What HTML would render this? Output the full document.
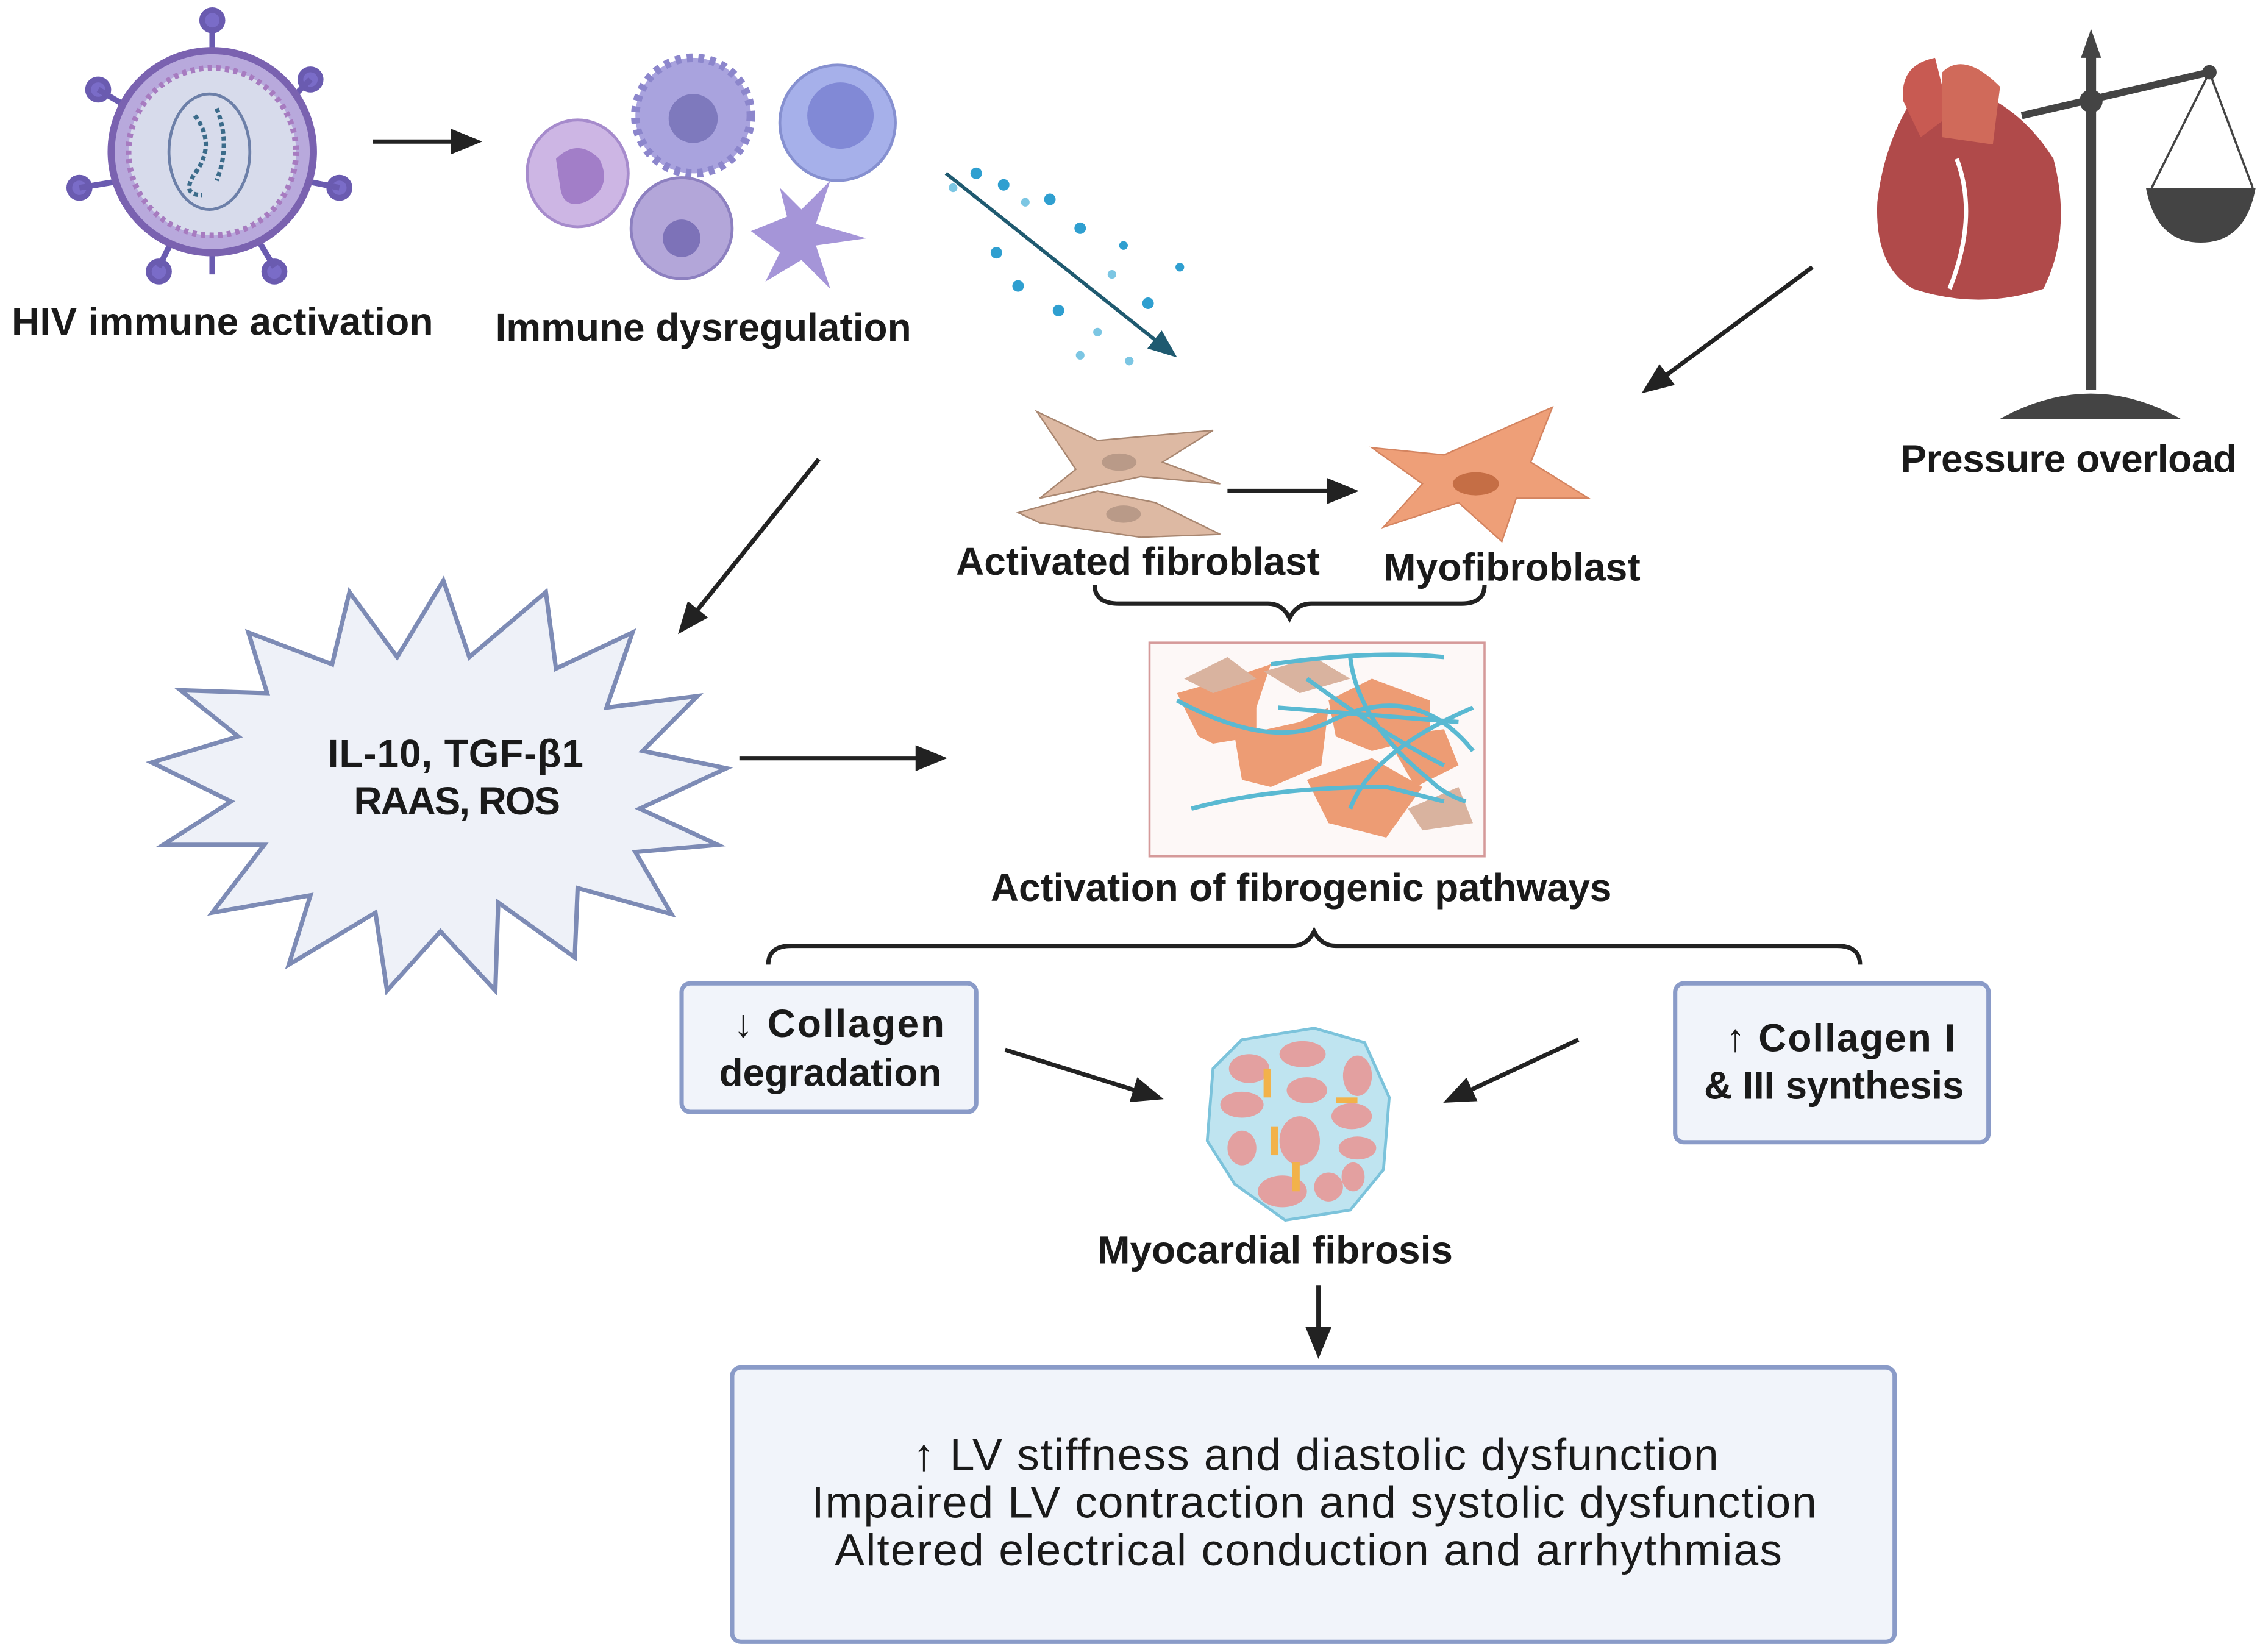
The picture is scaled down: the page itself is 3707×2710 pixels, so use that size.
<!DOCTYPE html>
<html><head><meta charset="utf-8"><style>
html,body{margin:0;padding:0;background:#fff}
svg{display:block}
text{font-family:"Liberation Sans",sans-serif;fill:#1a1a1a}
.b{font-weight:bold;font-size:27px}
</style></head><body>
<svg width="3707" height="2710" viewBox="0 0 1565 1144" xmlns="http://www.w3.org/2000/svg">
<defs>
<marker id="ah2" markerWidth="22" markerHeight="18" refX="18" refY="9" orient="auto" markerUnits="userSpaceOnUse"><path d="M0,0 L22,9 L0,18 z" fill="#222"/></marker>
<marker id="aht" markerWidth="20" markerHeight="16" refX="16" refY="8" orient="auto" markerUnits="userSpaceOnUse"><path d="M0,0 L20,8 L0,16 z" fill="#1f5a70"/></marker>
</defs>
<!-- virus -->
<g>
<g stroke="#6a5bb0" stroke-width="4" fill="#7a6cc8">
<line x1="147" y1="40" x2="147" y2="15"/><circle cx="147" cy="14" r="7"/>
<line x1="147" y1="170" x2="147" y2="190"/><circle cx="110" cy="188" r="7"/><line x1="120" y1="165" x2="110" y2="185"/>
<circle cx="190" cy="188" r="7"/><line x1="178" y1="165" x2="190" y2="185"/>
<circle cx="68" cy="62" r="7"/><line x1="90" y1="75" x2="68" y2="62"/>
<circle cx="215" cy="55" r="7"/><line x1="200" y1="70" x2="215" y2="55"/>
<circle cx="55" cy="130" r="7"/><line x1="85" y1="125" x2="55" y2="130"/>
<circle cx="235" cy="130" r="7"/><line x1="210" y1="125" x2="235" y2="130"/>
</g>
<circle cx="147" cy="105" r="70" fill="#b8a9dc" stroke="#7a62b0" stroke-width="5"/>
<circle cx="147" cy="105" r="58" fill="#d7dbeb" stroke="#a77bc0" stroke-width="4" stroke-dasharray="3 3"/>
<ellipse cx="145" cy="105" rx="28" ry="40" fill="none" stroke="#6c7fa8" stroke-width="2"/>
<path d="M135,80 Q150,100 135,120 Q125,135 140,135 M150,75 Q160,100 150,125" fill="none" stroke="#3b6b8a" stroke-width="3" stroke-dasharray="3 2"/>
</g>
<text x="8" y="232" class="b" textLength="292">HIV immune activation</text>
<line x1="258" y1="98" x2="330" y2="98" stroke="#222" stroke-width="3" marker-end="url(#ah2)"/>
<!-- immune cells -->
<ellipse cx="400" cy="120" rx="35" ry="37" fill="#cdb6e4" stroke="#a68bcc" stroke-width="2"/>
<path d="M385,110 Q400,95 415,110 Q425,130 405,140 Q390,145 388,130 z" fill="#a27ec8"/>
<circle cx="480" cy="80" r="40" fill="#a9a3de" stroke="#8c86cc" stroke-width="6" stroke-dasharray="4 4"/>
<circle cx="480" cy="82" r="17" fill="#7e79bd"/>
<circle cx="580" cy="85" r="40" fill="#a6b0ea" stroke="#8690d0" stroke-width="2"/>
<circle cx="582" cy="80" r="23" fill="#8189d6"/>
<circle cx="472" cy="158" r="35" fill="#b3a6d9" stroke="#8d80c0" stroke-width="2"/>
<circle cx="472" cy="165" r="13" fill="#7d72b8"/>
<path d="M520,160 L545,150 L540,130 L555,145 L575,125 L565,155 L600,165 L565,170 L575,200 L555,180 L530,195 L540,175 z" fill="#a595d8"/>
<text x="343" y="236" class="b" textLength="288">Immune dysregulation</text>
<!-- dots arrow -->
<g fill="#2f9fd0">
<circle cx="676" cy="120" r="4"/><circle cx="695" cy="128" r="4"/><circle cx="727" cy="138" r="4"/><circle cx="690" cy="175" r="4"/><circle cx="705" cy="198" r="4"/><circle cx="748" cy="158" r="4"/><circle cx="733" cy="215" r="4"/><circle cx="778" cy="170" r="3"/><circle cx="795" cy="210" r="4"/><circle cx="817" cy="185" r="3"/><circle cx="748" cy="246" r="3" fill="#7cc6e3"/><circle cx="782" cy="250" r="3" fill="#7cc6e3"/><circle cx="710" cy="140" r="3" fill="#7cc6e3"/><circle cx="660" cy="130" r="3" fill="#7cc6e3"/><circle cx="760" cy="230" r="3" fill="#7cc6e3"/><circle cx="770" cy="190" r="3" fill="#7cc6e3"/>
</g>
<line x1="655" y1="120" x2="812" y2="245" stroke="#1f5a70" stroke-width="2.5" marker-end="url(#aht)"/>
<!-- heart & scale -->
<path d="M1330,60 Q1305,95 1300,140 Q1298,185 1325,200 Q1370,215 1415,200 Q1435,160 1422,110 Q1400,75 1365,62 z" fill="#b04a4a"/>
<path d="M1318,70 Q1315,45 1340,40 L1350,80 L1330,95 z" fill="#c85a52"/>
<path d="M1345,95 L1345,50 Q1360,35 1385,60 L1380,100 z" fill="#d06a5a"/>
<path d="M1355,110 Q1370,150 1350,200" stroke="#fff" stroke-width="3" fill="none"/>
<line x1="1448" y1="35" x2="1448" y2="270" stroke="#444" stroke-width="7"/>
<path d="M1441,40 L1448,20 L1455,40 z" fill="#444"/>
<path d="M1385,290 Q1448,255 1510,290 z" fill="#444"/>
<line x1="1400" y1="80" x2="1530" y2="50" stroke="#444" stroke-width="5"/>
<circle cx="1448" cy="70" r="8" fill="#444"/><circle cx="1530" cy="50" r="5" fill="#444"/>
<path d="M1530,50 L1490,130 M1530,50 L1560,130" stroke="#444" stroke-width="1.5"/>
<path d="M1486,130 L1562,130 Q1555,168 1524,168 Q1493,168 1486,130 z" fill="#444"/>
<text x="1316" y="327" class="b" textLength="233">Pressure overload</text>
<line x1="1255" y1="185" x2="1140" y2="270" stroke="#222" stroke-width="3" marker-end="url(#ah2)"/>
<!-- fibroblasts -->
<path d="M718,285 L760,305 L840,298 L805,320 L845,335 L790,330 L720,345 L745,325 z" fill="#ddb9a3" stroke="#a88670" stroke-width="1"/>
<path d="M705,355 L760,340 L800,348 L845,370 L790,372 L720,362 z" fill="#ddb9a3" stroke="#a88670" stroke-width="1"/>
<ellipse cx="775" cy="320" rx="12" ry="6" fill="#b99a88"/><ellipse cx="778" cy="356" rx="12" ry="6" fill="#b99a88"/>
<line x1="850" y1="340" x2="937" y2="340" stroke="#222" stroke-width="3" marker-end="url(#ah2)"/>
<path d="M950,310 L1000,315 L1075,282 L1060,320 L1100,345 L1050,345 L1040,375 L1010,348 L958,365 L985,335 z" fill="#ee9f78" stroke="#d48460" stroke-width="1"/>
<ellipse cx="1022" cy="335" rx="16" ry="8" fill="#c56e45"/>
<text x="662" y="398" class="b" textLength="252">Activated fibroblast</text>
<text x="958" y="402" class="b" textLength="178">Myofibroblast</text>
<path d="M758,405 Q758,418 775,418 L878,418 Q888,418 893,428 Q898,418 908,418 L1012,418 Q1028,418 1028,405" fill="none" stroke="#222" stroke-width="3"/>
<!-- fibrogenic box -->
<rect x="796" y="445" width="232" height="148" fill="#fdf8f7" stroke="#d59a9a" stroke-width="1.5"/>
<g fill="#ed9c74">
<path d="M815,480 L850,470 L880,460 L870,490 L870,510 L840,515 L830,510 z"/>
<path d="M855,510 L900,500 L920,490 L915,530 L880,545 L860,540 z"/>
<path d="M920,485 L950,470 L990,485 L990,510 L950,520 L925,510 z"/>
<path d="M905,540 L950,525 L985,545 L960,580 L920,570 z"/>
<path d="M960,510 L1000,505 L1010,530 L980,545 z"/>
</g>
<g fill="#d9b39f"><path d="M820,470 L850,455 L870,470 L840,480 z"/><path d="M875,465 L910,455 L935,470 L900,480 z"/><path d="M975,560 L1010,545 L1020,570 L985,575 z"/></g>
<g fill="none" stroke="#5ab9d2" stroke-width="3">
<path d="M815,485 Q880,520 920,500 Q980,470 1020,520"/><path d="M880,460 Q950,450 1000,455"/><path d="M935,455 Q940,500 990,540 Q1000,550 1015,555"/><path d="M825,560 Q880,545 960,545 L1000,555"/><path d="M885,490 Q950,495 1010,500"/><path d="M905,470 Q960,510 1000,530"/><path d="M935,560 Q950,520 1020,490"/>
</g>
<text x="686" y="624" class="b" textLength="430">Activation of fibrogenic pathways</text>
<line x1="567" y1="318" x2="472" y2="436" stroke="#222" stroke-width="3" marker-end="url(#ah2)"/>
<!-- starburst -->
<polygon points="172,438 230,460 242,410 275,455 307,402 325,455 378,410 385,463 438,438 420,490 483,482 445,520 503,532 443,560 497,585 440,590 465,633 400,615 398,663 345,625 343,686 305,645 268,686 260,632 200,668 215,620 147,632 183,585 113,585 160,555 105,528 165,510 125,478 185,480" fill="#eef1f8" stroke="#7d8bb5" stroke-width="3"/>
<text x="227" y="531" class="b" textLength="177">IL-10, TGF-β1</text>
<text x="245" y="564" class="b" textLength="143">RAAS, ROS</text>
<line x1="512" y1="525" x2="652" y2="525" stroke="#222" stroke-width="3" marker-end="url(#ah2)"/>
<path d="M532,668 Q532,655 548,655 L895,655 Q905,655 910,645 Q915,655 925,655 L1272,655 Q1288,655 1288,668" fill="none" stroke="#222" stroke-width="3"/>
<rect x="472" y="681" width="204" height="89" rx="6" fill="#f1f4fa" stroke="#8a9bc8" stroke-width="3"/>
<text x="508" y="718" class="b" textLength="146">↓ Collagen</text>
<text x="498" y="752" class="b" textLength="154">degradation</text>
<rect x="1160" y="681" width="217" height="110" rx="6" fill="#f1f4fa" stroke="#8a9bc8" stroke-width="3"/>
<text x="1195" y="728" class="b" textLength="159">↑ Collagen I</text>
<text x="1180" y="761" class="b" textLength="180">&amp; III synthesis</text>
<line x1="696" y1="727" x2="802" y2="760" stroke="#222" stroke-width="3" marker-end="url(#ah2)"/>
<line x1="1093" y1="720" x2="1003" y2="762" stroke="#222" stroke-width="3" marker-end="url(#ah2)"/>
<!-- myocardial tissue -->
<path d="M860,720 L910,712 L945,722 L962,760 L958,810 L935,838 L890,845 L855,820 L836,790 L840,740 z" fill="#bfe4f0" stroke="#7cc3db" stroke-width="2"/>
<g fill="#e3a0a0">
<ellipse cx="865" cy="740" rx="14" ry="10"/><ellipse cx="902" cy="730" rx="16" ry="9"/><ellipse cx="940" cy="745" rx="10" ry="14"/><ellipse cx="905" cy="755" rx="14" ry="9"/><ellipse cx="860" cy="765" rx="15" ry="9"/><ellipse cx="936" cy="773" rx="14" ry="9"/><ellipse cx="900" cy="790" rx="14" ry="17"/><ellipse cx="860" cy="795" rx="10" ry="12"/><ellipse cx="940" cy="795" rx="13" ry="8"/><ellipse cx="888" cy="825" rx="17" ry="11"/><ellipse cx="920" cy="822" rx="10" ry="10"/><ellipse cx="937" cy="815" rx="8" ry="10"/>
</g>
<g fill="#f2b24a"><rect x="875" y="740" width="5" height="20"/><rect x="880" y="780" width="5" height="20"/><rect x="925" y="760" width="15" height="4"/><rect x="895" y="805" width="5" height="20"/></g>
<text x="760" y="875" class="b" textLength="246">Myocardial fibrosis</text>
<line x1="913" y1="890" x2="913" y2="937" stroke="#222" stroke-width="3" marker-end="url(#ah2)"/>
<rect x="507" y="947" width="805" height="190" rx="6" fill="#f1f4fa" stroke="#8a9bc8" stroke-width="3"/>
<g font-size="31">
<text x="632" y="1018" textLength="558">↑ LV stiffness and diastolic dysfunction</text>
<text x="562" y="1051" textLength="696">Impaired LV contraction and systolic dysfunction</text>
<text x="578" y="1084" textLength="656">Altered electrical conduction and arrhythmias</text>
</g>
</svg>
</body></html>
